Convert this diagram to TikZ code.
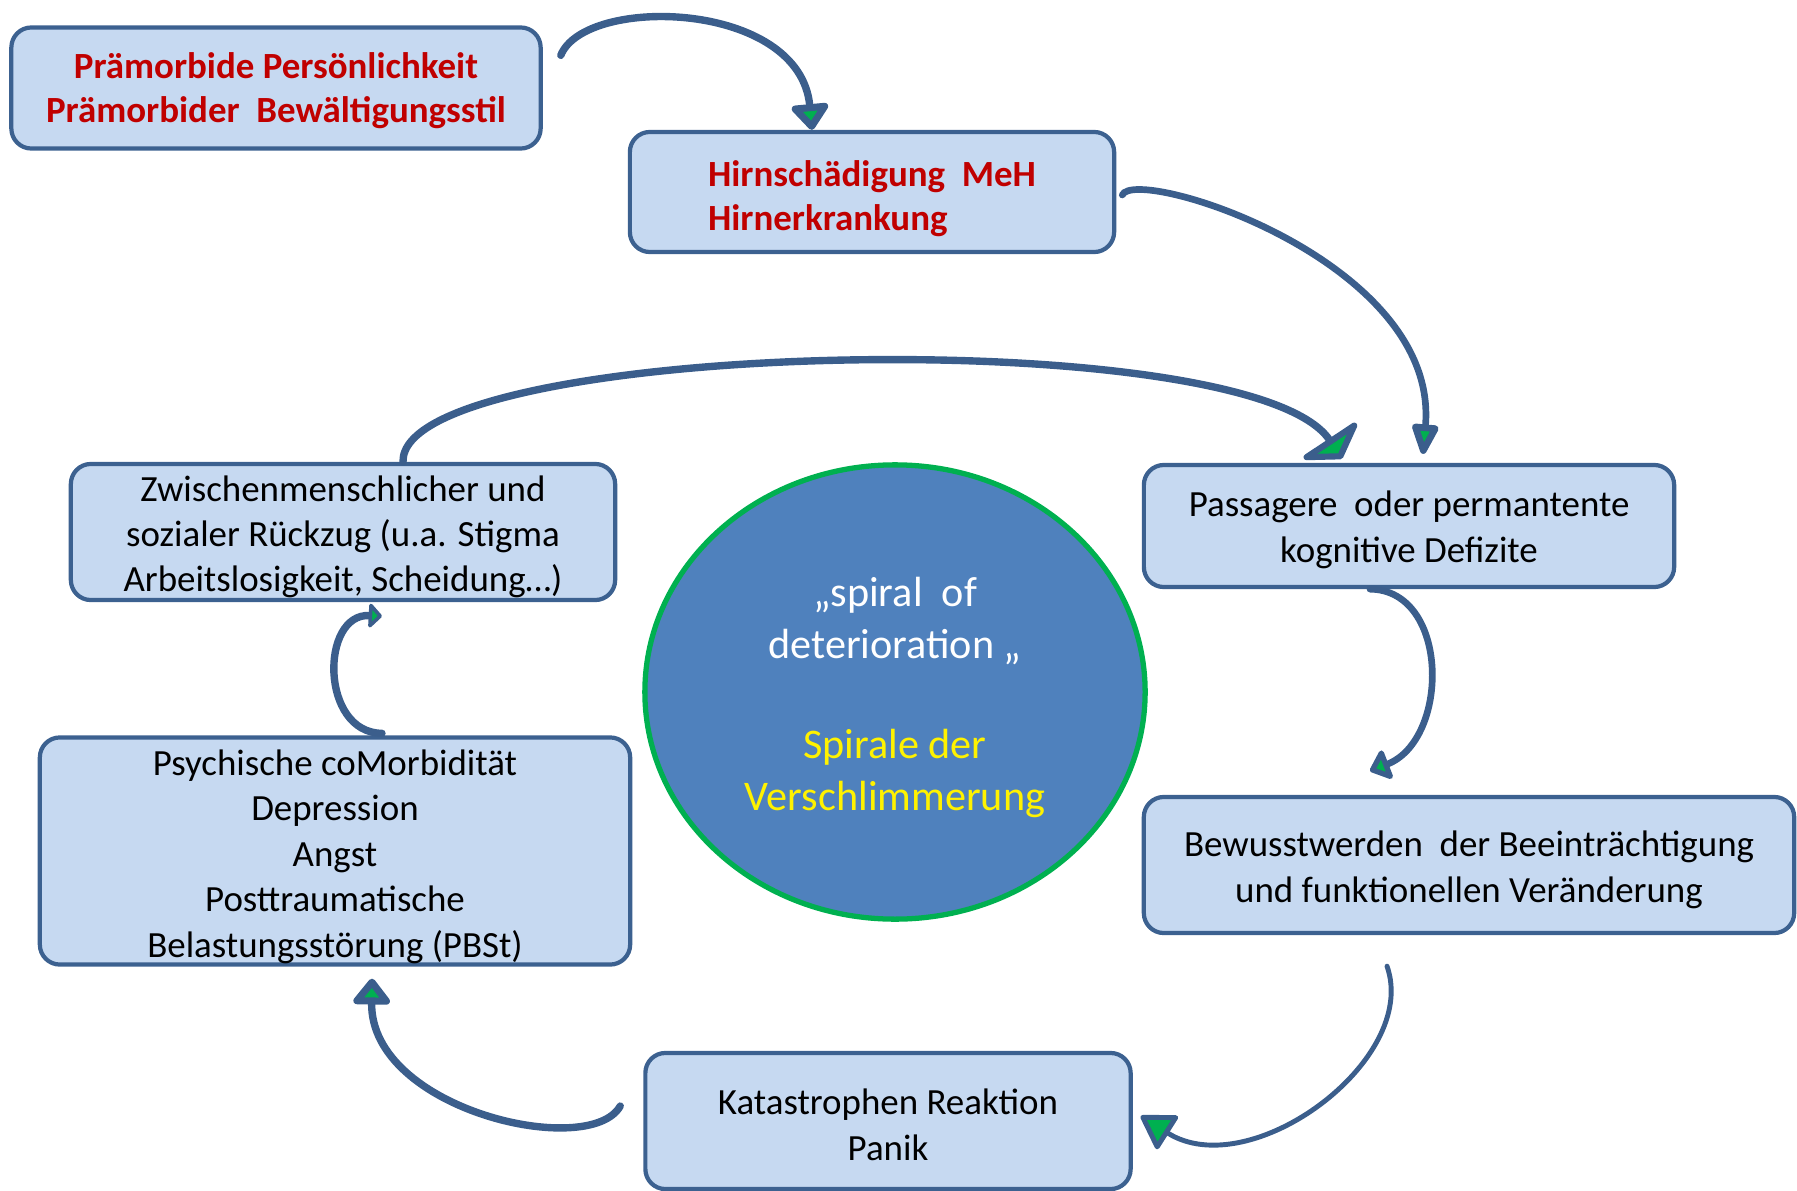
\documentclass[tikz,border=0pt]{standalone}
\usepackage{fontspec}
\setmainfont{Carlito}
\usetikzlibrary{arrows.meta,shapes.geometric}
\definecolor{boxfill}{HTML}{C6D9F1}
\definecolor{boxline}{HTML}{3C6190}
\definecolor{arrowblue}{HTML}{3B5E8C}
\definecolor{tipgreen}{HTML}{00B050}
\definecolor{darkred}{HTML}{C00000}
\definecolor{circfill}{HTML}{4F81BD}
\newcommand{\topgap}[1]{\rule{0pt}{#1}}

\begin{document}
\begin{tikzpicture}[x=0.01cm,y=-0.01cm,
  box/.style={draw=boxline,fill=boxfill,line width=1.2pt,rounded corners=0.2cm,
    align=center,inner sep=0pt,font=\fontsize{10.5}{12.9}\selectfont},
  redtext/.style={text=darkred,font=\bfseries\fontsize{10.5}{12.4}\selectfont},
  flow/.style={draw=arrowblue,line width=2.1pt,line cap=round,
    -{Triangle[fill=tipgreen,round,#1]}}]
\useasboundingbox (0,0) rectangle (1797,1191);

\node[box,redtext,minimum width=5.29cm,minimum height=1.21cm] (praem) at (276,88)
  {\topgap{9pt}Prämorbide Persönlichkeit\\Prämorbider~~Bewältigungsstil};
\node[box,redtext,align=left,minimum width=4.84cm,minimum height=1.2cm] (hirn) at (872,192)
  {\topgap{11pt}Hirnschädigung~~MeH\\Hirnerkrankung};
\node[box,minimum width=5.3cm,minimum height=1.22cm] (defizit) at (1409,526)
  {\topgap{9.5pt}Passagere~~oder permantente\\kognitive Defizite};
\node[box,minimum width=6.5cm,minimum height=1.36cm] (bewusst) at (1469,865)
  {\topgap{10pt}Bewusstwerden~~der Beeinträchtigung\\und funktionellen Veränderung};
\node[box,minimum width=4.85cm,minimum height=1.36cm] (kata) at (888,1121)
  {\topgap{9.5pt}Katastrophen Reaktion\\Panik};
\node[box,minimum width=5.9cm,minimum height=2.27cm] (psych) at (335,851)
  {\topgap{10.5pt}Psychische coMorbidität\\Depression\\Angst\\Posttraumatische\\Belastungsstörung (PBSt)};
\node[box,minimum width=5.44cm,minimum height=1.36cm] (rueck) at (343,532)
  {\topgap{10pt}Zwischenmenschlicher und\\sozialer Rückzug (u.a. Stigma\\Arbeitslosigkeit, Scheidung…)};
\node[ellipse,draw=tipgreen,fill=circfill,line width=1.5pt,minimum width=5cm,minimum height=4.54cm,
  align=center,text=white,font=\fontsize{12}{14.6}\selectfont] (spirale) at (895,692)
  {\topgap{11.5pt}„spiral~~of\\deterioration „\\[14pt]{\color{yellow}Spirale der}\\{\color{yellow}Verschlimmerung}};

\draw[flow={width=12pt,length=8pt}] ([shift={(18,30)}]praem.north east)
  .. controls (585,-5) and (800,0) .. (hirn.134.5);
\draw[flow={width=8pt,length=10pt},line width=1.9pt] ([shift={(6,3)}]hirn.east)
  .. controls (1135,165) and (1440,260) .. ([shift={(14,-9)}]defizit.north);
\draw[flow={width=22pt,length=7pt}] ([shift={(60,0)}]rueck.north)
  .. controls (400,340) and (1250,320) .. ([shift={(-67,-4)}]defizit.north);
\draw[flow={width=10pt,length=6pt},line width=1.9pt] ([shift={(-39,0)}]defizit.south)
  .. controls (1450,590) and (1450,740) .. ([shift={(-99,-24)}]bewusst.north);
\draw[flow={width=12pt,length=10pt},line width=1.4pt] ([shift={(-82,31)}]bewusst.south)
  .. controls (1420,1060) and (1250,1185) .. ([shift={(8,-5)}]kata.east);
\draw[flow={width=12pt,length=8pt}] ([shift={(-23,-15)}]kata.west)
  .. controls (590,1160) and (370,1110) .. ([shift={(37,12)}]psych.south);
\draw[flow={width=8pt,length=4pt}] ([shift={(47,-2)}]psych.north)
  .. controls (320,733) and (320,613) .. ([shift={(39,14)}]rueck.south);
\end{tikzpicture}
\end{document}
